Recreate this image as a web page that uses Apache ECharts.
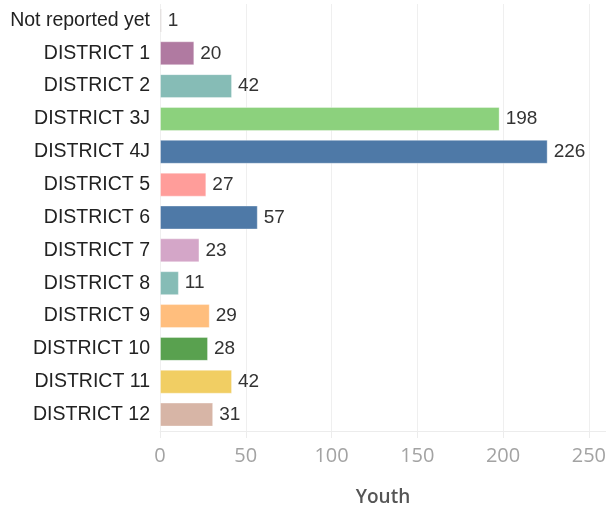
<!DOCTYPE html>
<html>
<head>
<meta charset="utf-8">
<script src="https://cdn.jsdelivr.net/npm/echarts@6/dist/echarts.min.js"></script>
<style>
  html, body { margin: 0; padding: 0; background: #ffffff; }
  #chart { width: 606px; height: 506px; }
</style>
</head>
<body>
<div id="chart"></div>
<script>
// Youth counts per district
const districts = [
  'Not reported yet', 'DISTRICT 1', 'DISTRICT 2', 'DISTRICT 3J', 'DISTRICT 4J',
  'DISTRICT 5', 'DISTRICT 6', 'DISTRICT 7', 'DISTRICT 8', 'DISTRICT 9',
  'DISTRICT 10', 'DISTRICT 11', 'DISTRICT 12'
];
const youth = [1, 20, 42, 198, 226, 27, 57, 23, 11, 29, 28, 42, 31];
const barColors = [
  '#bab0ac', '#b07aa1', '#86bcb6', '#8cd17d', '#4e79a7',
  '#ff9d9a', '#4e79a7', '#d4a6c8', '#86bcb6', '#ffbe7d',
  '#59a14f', '#f1ce63', '#d7b5a6'
];
const xTicks = [0, 50, 100, 150, 200, 250];

const chart = echarts.init(document.getElementById('chart'));
chart.setOption({
  animation: false,
  grid: { left: 160, right: 0, top: 4, bottom: 75, containLabel: false, outerBoundsMode: 'none' },
  xAxis: {
    type: 'value',
    min: 0,
    max: 260,
    interval: 50,
    name: 'Youth',
    nameLocation: 'middle',
    nameGap: 57,
    nameTextStyle: { fontFamily: 'Open Sans', fontWeight: 600, fontSize: 19, color: '#555555' },
    axisLine: { show: true, lineStyle: { color: '#ececec', width: 1 } },
    axisTick: { show: true, length: 7, lineStyle: { color: '#ececec' } },
    splitLine: { show: true, lineStyle: { color: '#efefef', width: 1 } },
    axisLabel: {
      margin: 15,
      fontFamily: 'Open Sans',
      fontSize: 20,
      color: '#a3a3a3',
      showMaxLabel: false,
      formatter: v => (xTicks.includes(v) ? String(v) : '')
    }
  },
  yAxis: {
    type: 'category',
    data: districts,
    inverse: true,
    axisLine: { show: false },
    axisTick: { show: false },
    axisLabel: {
      margin: 10,
      fontFamily: 'Liberation Sans',
      fontSize: 19.5,
      color: '#222222'
    }
  },
  series: [{
    type: 'bar',
    data: youth.map((v, i) => ({ value: v, itemStyle: { color: barColors[i] } })),
    barCategoryGap: '27%',
    itemStyle: { borderColor: 'rgba(255,255,255,0.35)', borderWidth: 1 },
    label: {
      show: true,
      position: 'right',
      distance: 6,
      fontFamily: 'Liberation Sans',
      fontSize: 19,
      color: '#333333'
    }
  }]
});
</script>
</body>
</html>
